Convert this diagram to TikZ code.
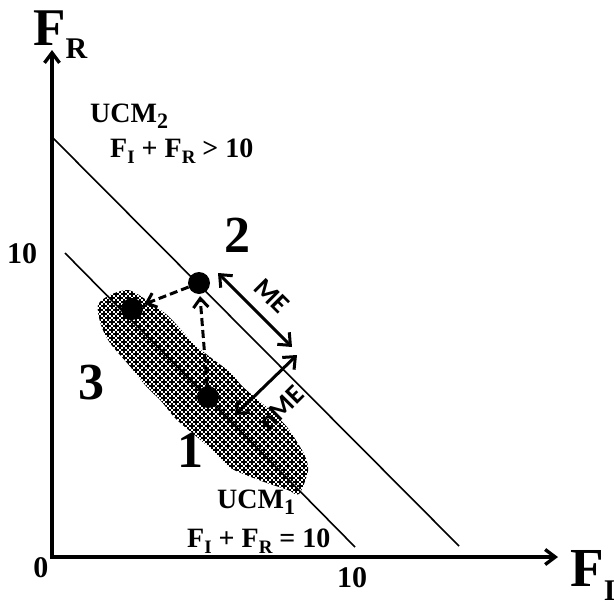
\documentclass[tikz,border=0pt]{standalone}
\usepackage{fontspec}
\setmainfont{Liberation Serif}
\newfontfamily\mesans{Carlito}
\usetikzlibrary{arrows.meta}
\newcommand\mysub[2][6pt]{\raisebox{-#1}{\fontsize{19}{19}\selectfont #2}}
\begin{document}
\begin{tikzpicture}[x=1pt,y=-1pt,
  axis/.style={line width=3.4pt,{Straight Barb[length=10pt,width=15pt]}-{Straight Barb[length=10pt,width=15pt]}},
  ucm/.style={line width=1.6pt},
  mearrow/.style={line width=3pt,{Straight Barb[length=10pt,width=17pt]}-{Straight Barb[length=10pt,width=17pt]}},
  dasharrow/.style={line width=3pt,dash pattern=on 8pt off 4pt,-{Straight Barb[length=9pt,width=15pt]},shorten >=2pt},
  dotnode/.style={circle,fill=black,minimum size=22pt,inner sep=0pt},
  bignum/.style={font=\bfseries\fontsize{52}{52}\selectfont,inner sep=0pt},
  lbl/.style={font=\bfseries\fontsize{28}{28}\selectfont,inner sep=0pt,anchor=base west},
  axnum/.style={font=\bfseries\fontsize{30}{30}\selectfont,inner sep=0pt},
  melbl/.style={font=\mesans\bfseries\fontsize{27}{27}\selectfont,inner sep=0pt}
]
\useasboundingbox (0,0) rectangle (614,600);
% cloud of observations
\begin{scope}
\clip plot[smooth cycle,tension=0.5] coordinates {
(98,305) (110,295) (128,290) (145,299) (167,315) (183,332) (196,346) (214,360)
(231,373) (242,386) (257,399) (272,412) (287,427) (297,442) (305,456) (308,471)
(299,494) (288,490) (267,483) (246,475) (229,467) (211,449) (197,437) (176,419)
(161,401) (146,386) (128,364) (110,343) (101,325)};
\draw[line width=2.3pt] foreach \j in {0,...,54} { foreach \i in {0,...,28} {
  ({92+8*\i+4*mod(\j,2)},{286+4*\j}) +(-2.7,0) -- +(2.7,0) +(0,-2.7) -- +(0,2.7) } };
\end{scope}
% axes
\coordinate (O) at (52,557);
\coordinate (ytip) at (52,50);
\coordinate (xtip) at (558,557);
\draw[axis] (ytip) -- (O) -- (xtip);
% UCM lines
\coordinate (u2a) at (52,137);
\coordinate (u2b) at (459,546);
\coordinate (u1a) at (65,253);
\coordinate (u1b) at (355,547);
\draw[ucm] (u2a) -- (u2b);
\draw[ucm] (u1a) -- (u1b);
% dots
\node[dotnode] (d1) at (208,397) {};
\node[dotnode] (d2) at (199,283) {};
\node[dotnode] (d3) at (132,309) {};
\draw[dasharrow] (d2) -- (d3);
\draw[dasharrow] (d1) -- (d2);
% ME arrows
\coordinate (mea) at (218,273);
\coordinate (meb) at (292,347);
\coordinate (nmea) at (235,415);
\coordinate (nmeb) at (297,355);
\draw[mearrow] (mea) -- (meb);
\draw[mearrow] (nmea) -- (nmeb);
\node[melbl,rotate=-45] (melabel) at (272,296) {ME};
\node[melbl,rotate=45] (nmelabel) at (281,408) {nME};
% numbers
\node[bignum] (n1) at (190,450) {1};
\node[bignum] (n2) at (237,235) {2};
\node[bignum] (n3) at (91,383) {3};
% axis labels
\node[inner sep=0pt,anchor=base west,font=\bfseries\fontsize{53}{53}\selectfont] (fr) at (33,45) {F\raisebox{-13pt}{\fontsize{30}{30}\selectfont R}};
\node[inner sep=0pt,anchor=base west,font=\bfseries\fontsize{55}{55}\selectfont] (fi) at (570,586) {F\raisebox{-14pt}{\fontsize{30}{30}\selectfont I}};
\node[axnum] (y10) at (22,254) {10};
\node[axnum] (zero) at (41,568) {0};
\node[axnum] (x10) at (352,578) {10};
% UCM labels
\node[lbl] (ucm2) at (90,122) {UCM\raisebox{-6pt}{\fontsize{22}{22}\selectfont 2}};
\node[lbl] (eq2) at (110,157) {F\mysub{I} + F\mysub{R} > 10};
\node[lbl] (ucm1) at (217,508) {UCM\raisebox{-6pt}{\fontsize{22}{22}\selectfont 1}};
\node[lbl] (eq1) at (187,547) {F\mysub{I} + F\mysub{R} = 10};
\end{tikzpicture}
\end{document}
